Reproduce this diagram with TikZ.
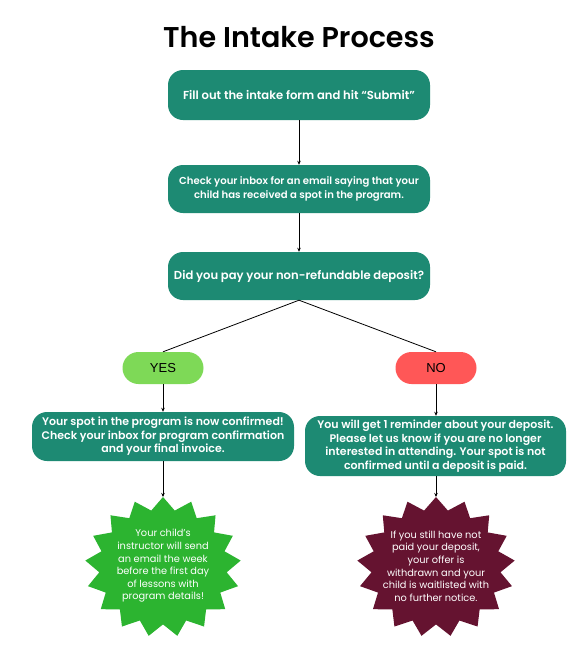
\documentclass[tikz,border=0pt]{standalone}
\usepackage{fontspec}
\setmainfont{Poppins}[BoldFont={* SemiBold}]
\newfontfamily\pillfont{Liberation Sans}
\usetikzlibrary{arrows.meta}
\definecolor{tealbox}{RGB}{29,138,115}
\definecolor{yesgreen}{RGB}{126,217,87}
\definecolor{nored}{RGB}{255,87,87}
\definecolor{stargreen}{RGB}{44,180,48}
\definecolor{starred}{RGB}{101,19,48}
\tikzset{
  box/.style={fill=tealbox, rounded corners=15pt, text=white, font=\bfseries\fontsize{10.1}{13.5}\selectfont, align=center, inner sep=0pt, minimum width=262pt},
  pill/.style={rounded corners=16pt, minimum width=81pt, minimum height=32pt, inner sep=0pt, font=\pillfont\fontsize{13}{15}\selectfont, text=black},
  startext/.style={text=white, font=\fontsize{9.8}{12.6}\selectfont, align=center, inner sep=0pt},
  arr/.style={-{Stealth[length=4pt,width=3.5pt]}, line width=0.8pt, black},
  conn/.style={line width=0.8pt, black}
}
\begin{document}
\begin{tikzpicture}[x=1pt,y=-1pt]
\useasboundingbox[fill=white] (0,0) rectangle (584,665);
\node[font=\bfseries\fontsize{28.6}{32}\selectfont] (title) at (299,37) {The Intake Process};
\node[box, minimum height=50pt, font=\bfseries\fontsize{11.6}{13.5}\selectfont] (b1) at (299,95) {Fill out the intake form and hit “Submit”};
\node[box, minimum height=48pt] (b2) at (299,189) {Check your inbox for an email saying that your\\child has received a spot in the program.};
\node[box, minimum height=48pt, font=\bfseries\fontsize{11.6}{14}\selectfont] (b3) at (299,276) {Did you pay your non-refundable deposit?};
\node[pill, fill=yesgreen] (yes) at (163,368) {YES};
\node[pill, fill=nored] (no) at (436,368) {NO};
\node[box, minimum height=49pt, font=\bfseries\fontsize{11}{13.5}\selectfont] (b4) at (163,436.5) {Your spot in the program is now confirmed!\\Check your inbox for program confirmation\\and your final invoice.};
\node[box, minimum height=60pt, minimum width=261pt, font=\bfseries\fontsize{11}{13.7}\selectfont] (b5) at (435.5,446) {You will get 1 reminder about your deposit.\\Please let us know if you are no longer\\interested in attending. Your spot is not\\confirmed until a deposit is paid.};
% stars
\fill[stargreen] (163,497) \foreach \i in {1,...,33} { -- ({163+78*(mod(\i,2)==0?1:0.82)*sin(\i*180/17)}, {567-70*(mod(\i,2)==0?1:0.82)*cos(\i*180/17)}) } -- cycle;
\coordinate (s1top) at (163,497);
\node[startext] (s1) at (163,566) {Your child’s\\instructor will send\\an email the week\\before the first day\\of lessons with\\program details!};
\fill[starred] (436,497) \foreach \i in {1,...,33} { -- ({436+79*(mod(\i,2)==0?1:0.82)*sin(\i*180/17)}, {567-70*(mod(\i,2)==0?1:0.82)*cos(\i*180/17)}) } -- cycle;
\coordinate (s2top) at (436,497);
\node[startext] (s2) at (436,566) {If you still have not\\paid your deposit,\\your offer is\\withdrawn and your\\child is waitlisted with\\no further notice.};
% connectors
\draw[arr] (b1.south) -- (b2.north);
\draw[arr] (b2.south) -- (b3.north);
\draw[conn] (b3.south) -- (yes.north);
\draw[conn] (b3.south) -- (no.north);
\draw[arr] (yes.south) -- (b4.north);
\draw[arr] (no.south) -- (b5.north -| no.south);
\draw[arr] (b4.south) -- (s1top);
\draw[arr] (b5.south -| s2top) -- (s2top);
\end{tikzpicture}
\end{document}
